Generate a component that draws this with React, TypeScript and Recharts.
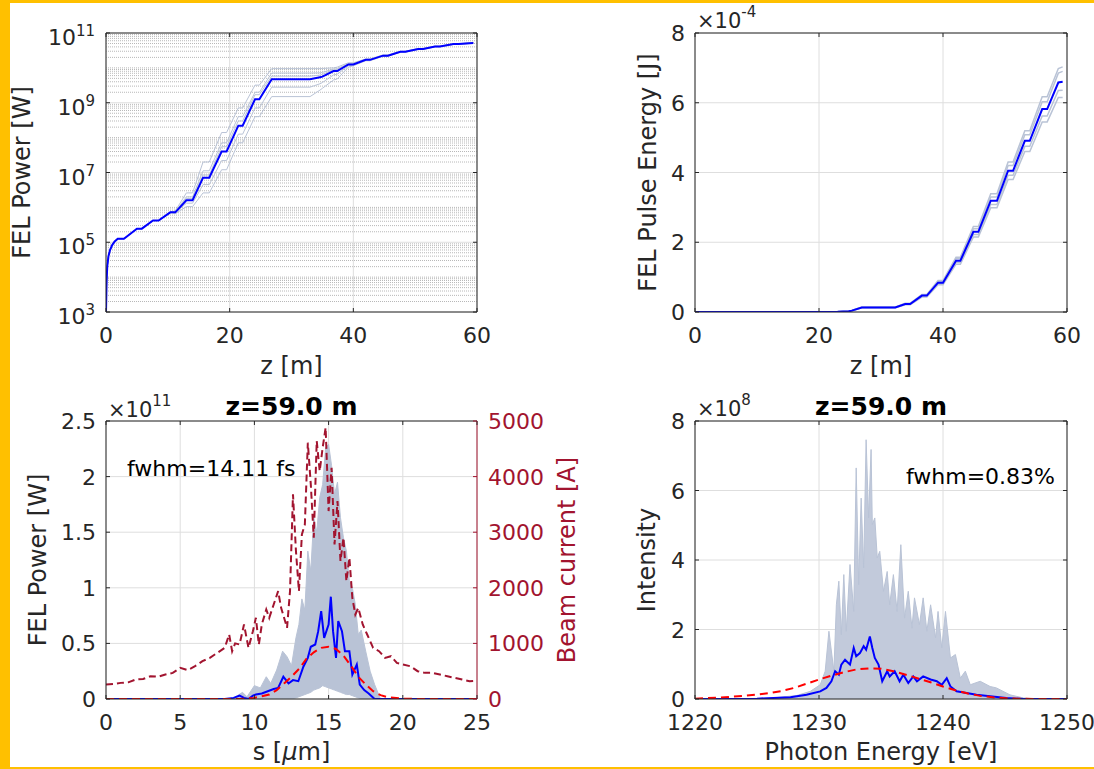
import { Area, CartesianGrid, ComposedChart, Line, ReferenceLine, XAxis, YAxis } from 'recharts'

const FONT = '"DejaVu Sans", sans-serif'
const INK = '#262626'
const GRID = '#dedede'
const MINOR = '#b8b8b8'
const SHOT = '#b9c3d6'
const BLUE = '#0000ff'
const FIT_RED = '#ff0000'
const CURRENT_RED = '#a2142f'
const TICK_LEN = 4

// ---- top left: FEL power vs z (log) ----
const zPower = [0, 0.1, 0.2, 0.4, 0.65, 1.0, 1.4, 1.9, 2.9, 5.0, 5.8, 7.6, 8.5, 10.4, 11.2, 13.0, 14.0, 15.7, 16.7, 18.7, 19.5, 21.4, 22.1, 24.1, 24.8, 26.8, 33.0, 34.6, 35.0, 36.8, 37.4, 39.2, 40.0, 42.0, 42.7, 44.8, 45.6, 47.6, 48.4, 50.5, 51.3, 53.2, 54.0, 56.2, 57.0, 59.4]
const powerMean = [1e3, 7.9e3, 2.0e4, 4.0e4, 6.0e4, 8.3e4, 1.05e5, 1.26e5, 1.26e5, 2.45e5, 2.45e5, 4.2e5, 4.2e5, 7.2e5, 7.2e5, 1.6e6, 1.6e6, 7.1e6, 7.1e6, 4.0e7, 4.0e7, 2.2e8, 2.2e8, 1.26e9, 1.26e9, 4.7e9, 4.7e9, 5.4e9, 5.6e9, 8.1e9, 8.1e9, 1.26e10, 1.26e10, 1.7e10, 1.7e10, 2.24e10, 2.24e10, 2.9e10, 2.9e10, 3.5e10, 3.5e10, 4.1e10, 4.1e10, 4.8e10, 4.8e10, 5.2e10]
const powerShot1 = [1e3, 7.9e3, 2.0e4, 4.0e4, 6.0e4, 8.3e4, 1.05e5, 1.26e5, 1.26e5, 2.45e5, 2.45e5, 4.2e5, 4.2e5, 7.4e5, 7.9e5, 2.6e6, 2.6e6, 2.0e7, 2.0e7, 1.4e8, 1.4e8, 7.1e8, 7.1e8, 3.2e9, 3.2e9, 9.5e9, 9.5e9, 9.5e9, 9.6e9, 1.0e10, 1.05e10, 1.4e10, 1.4e10, 1.8e10, 1.8e10, 2.35e10, 2.35e10, 3.0e10, 3.0e10, 3.6e10, 3.6e10, 4.2e10, 4.2e10, 4.9e10, 4.9e10, 5.4e10]
const powerShot2 = [1e3, 7.9e3, 2.0e4, 4.0e4, 6.0e4, 8.3e4, 1.05e5, 1.26e5, 1.26e5, 2.45e5, 2.45e5, 4.2e5, 4.2e5, 7.3e5, 7.5e5, 2.0e6, 2.0e6, 1.12e7, 1.12e7, 7.1e7, 7.1e7, 4.0e8, 4.0e8, 2.0e9, 2.0e9, 7.1e9, 7.1e9, 7.2e9, 7.4e9, 9.3e9, 9.4e9, 1.32e10, 1.32e10, 1.75e10, 1.75e10, 2.3e10, 2.3e10, 2.95e10, 2.95e10, 3.55e10, 3.55e10, 4.15e10, 4.15e10, 4.85e10, 4.85e10, 5.3e10]
const powerShot3 = [1e3, 7.9e3, 2.0e4, 4.0e4, 6.0e4, 8.3e4, 1.05e5, 1.26e5, 1.26e5, 2.45e5, 2.45e5, 4.2e5, 4.2e5, 7.1e5, 6.9e5, 1.32e6, 1.32e6, 4.5e6, 4.5e6, 2.2e7, 2.2e7, 1.26e8, 1.26e8, 7.1e8, 7.1e8, 2.8e9, 2.8e9, 3.5e9, 3.8e9, 6.3e9, 6.6e9, 1.15e10, 1.2e10, 1.65e10, 1.65e10, 2.2e10, 2.2e10, 2.85e10, 2.85e10, 3.45e10, 3.45e10, 4.05e10, 4.05e10, 4.75e10, 4.75e10, 5.15e10]
const powerShot4 = [1e3, 7.9e3, 2.0e4, 4.0e4, 6.0e4, 8.3e4, 1.05e5, 1.26e5, 1.26e5, 2.45e5, 2.45e5, 4.2e5, 4.2e5, 7.0e5, 6.6e5, 1.05e6, 1.05e6, 2.6e6, 2.6e6, 1.2e7, 1.2e7, 7.1e7, 7.1e7, 4.0e8, 4.0e8, 1.5e9, 1.5e9, 2.3e9, 2.6e9, 4.5e9, 4.8e9, 1.05e10, 1.15e10, 1.6e10, 1.6e10, 2.15e10, 2.15e10, 2.8e10, 2.8e10, 3.4e10, 3.4e10, 4.0e10, 4.0e10, 4.7e10, 4.7e10, 5.1e10]
const powerShot5 = [1e3, 7.9e3, 2.0e4, 4.0e4, 6.0e4, 8.3e4, 1.05e5, 1.26e5, 1.26e5, 2.45e5, 2.45e5, 4.2e5, 4.2e5, 7.2e5, 7.3e5, 1.8e6, 1.8e6, 8.5e6, 8.5e6, 5.5e7, 5.5e7, 3.0e8, 3.0e8, 1.7e9, 1.7e9, 5.8e9, 5.8e9, 6.2e9, 6.5e9, 8.8e9, 9.0e9, 1.3e10, 1.3e10, 1.72e10, 1.72e10, 2.27e10, 2.27e10, 2.92e10, 2.92e10, 3.52e10, 3.52e10, 4.12e10, 4.12e10, 4.82e10, 4.82e10, 5.25e10]
const powerTicks = [1e3, 1e5, 1e7, 1e9, 1e11]

// ---- top right: pulse energy vs z, in units of 1e-4 J ----
const zEnergy = [0, 20, 23, 24.8, 25.3, 26.9, 32.3, 33.9, 34.7, 36.6, 37.4, 39.2, 40.0, 42.1, 42.8, 44.9, 45.7, 47.7, 48.7, 50.5, 51.3, 53.2, 54.0, 56.0, 56.8, 58.6, 59.3]
const energyMean = [0, 0, 0.005, 0.02, 0.04, 0.13, 0.13, 0.23, 0.23, 0.47, 0.47, 0.84, 0.84, 1.47, 1.47, 2.3, 2.3, 3.19, 3.19, 4.05, 4.05, 4.91, 4.91, 5.82, 5.82, 6.58, 6.6]
const energyShot1 = [0, 0, 0.005, 0.02, 0.045, 0.14, 0.14, 0.25, 0.25, 0.5, 0.5, 0.9, 0.9, 1.57, 1.57, 2.45, 2.45, 3.39, 3.39, 4.3, 4.3, 5.2, 5.2, 6.17, 6.17, 6.98, 7.03]
const energyShot2 = [0, 0, 0.005, 0.02, 0.042, 0.135, 0.135, 0.24, 0.24, 0.49, 0.49, 0.87, 0.87, 1.53, 1.53, 2.39, 2.39, 3.3, 3.3, 4.2, 4.2, 5.08, 5.08, 6.03, 6.03, 6.85, 6.9]
const energyShot3 = [0, 0, 0.005, 0.02, 0.038, 0.125, 0.125, 0.22, 0.22, 0.45, 0.45, 0.81, 0.81, 1.42, 1.42, 2.22, 2.22, 3.08, 3.08, 3.92, 3.92, 4.75, 4.75, 5.62, 5.62, 6.35, 6.36]
const energyShot4 = [0, 0, 0.005, 0.02, 0.035, 0.12, 0.12, 0.21, 0.21, 0.43, 0.43, 0.78, 0.78, 1.37, 1.37, 2.15, 2.15, 2.99, 2.99, 3.8, 3.8, 4.6, 4.6, 5.45, 5.45, 6.15, 6.15]

// ---- bottom left: power profile (1e11 W) and beam current (A) at z=59 m ----
const sCurrent = [0, 0.5, 1.0, 1.5, 2.0, 2.5, 3.0, 3.5, 4.0, 4.5, 5.0, 5.5, 6.0, 6.5, 7.0, 7.5, 8.0, 8.3, 8.5, 8.7, 9.0, 9.3, 9.6, 9.9, 10.1, 10.3, 10.5, 10.8, 11.0, 11.3, 11.6, 11.8, 12.0, 12.2, 12.4, 12.6, 12.8, 13.0, 13.2, 13.4, 13.6, 13.8, 14.0, 14.2, 14.4, 14.6, 14.8, 15.0, 15.2, 15.4, 15.6, 15.8, 16.0, 16.2, 16.4, 16.6, 16.8, 17.0, 17.3, 17.6, 18.0, 18.4, 18.8, 19.2, 19.6, 20.0, 20.5, 21.0, 21.5, 22.0, 22.5, 23.0, 23.5, 24.0, 24.5, 25.0]
const beamCurrent = [260, 270, 290, 300, 350, 360, 410, 400, 440, 470, 560, 520, 590, 680, 740, 830, 920, 1160, 860, 1000, 980, 1340, 920, 1220, 1460, 980, 1340, 1610, 1460, 1700, 1940, 1640, 1460, 1280, 1940, 3680, 2660, 1940, 2960, 3140, 4610, 3860, 2900, 4640, 4100, 4520, 4880, 3380, 4160, 2780, 3560, 2480, 2900, 2120, 2540, 1820, 1520, 1640, 1340, 1160, 920, 860, 740, 770, 650, 620, 590, 500, 470, 470, 440, 410, 380, 350, 320, 330]
const sPower = [0, 8.0, 8.6, 9.0, 9.3, 9.6, 9.9, 10.1, 10.5, 10.9, 11.3, 11.6, 11.95, 12.3, 12.6, 12.96, 13.3, 13.6, 13.8, 14.1, 14.3, 14.5, 14.7, 15.0, 15.15, 15.3, 15.5, 15.65, 15.9, 16.1, 16.4, 16.6, 16.9, 17.1, 17.4, 17.7, 18.1, 25]
const powerSlice = [0, 0, 0.01, 0.03, 0.01, 0, 0.03, 0.04, 0.05, 0.07, 0.09, 0.1, 0.2, 0.14, 0.17, 0.16, 0.29, 0.37, 0.47, 0.49, 0.61, 0.79, 0.55, 0.67, 0.92, 0.61, 0.37, 0.7, 0.61, 0.43, 0.43, 0.22, 0.31, 0.13, 0.08, 0.05, 0, 0]
const sBand = [8.5, 9.2, 9.5, 10.0, 10.4, 10.8, 11.1, 11.5, 11.9, 12.2, 12.5, 12.8, 13.0, 13.2, 13.4, 13.6, 13.8, 14.0, 14.2, 14.4, 14.6, 14.8, 15.0, 15.2, 15.4, 15.6, 15.8, 16.0, 16.2, 16.4, 16.6, 16.8, 17.0, 17.2, 17.5, 17.8, 18.1, 18.5]
const bandHigh = [0, 0.06, 0.02, 0.12, 0.1, 0.2, 0.14, 0.26, 0.43, 0.38, 0.3, 0.55, 0.67, 0.9, 0.8, 1.33, 1.15, 1.63, 1.5, 1.81, 1.93, 2.26, 2.29, 2.1, 1.84, 1.95, 1.63, 1.45, 1.33, 1.06, 1.0, 0.85, 0.58, 0.62, 0.43, 0.25, 0.13, 0]
const bandLow = [0, 0, 0, 0, 0, 0, 0, 0, 0, 0, 0, 0.01, 0.02, 0.03, 0.04, 0.05, 0.06, 0.08, 0.09, 0.1, 0.12, 0.11, 0.1, 0.09, 0.08, 0.07, 0.06, 0.05, 0.04, 0.04, 0.03, 0.02, 0.01, 0, 0, 0, 0, 0]
const sFit = [0, 9, 10, 11, 11.5, 12, 12.5, 13, 13.5, 14, 14.5, 15, 15.5, 16, 16.5, 17, 17.5, 18, 18.5, 19, 20, 21, 25]
const powerFit = [0, 0, 0.01, 0.04, 0.08, 0.14, 0.2, 0.27, 0.36, 0.42, 0.46, 0.47, 0.45, 0.39, 0.3, 0.2, 0.13, 0.07, 0.035, 0.015, 0.003, 0, 0]

// ---- bottom right: spectrum (1e8) at z=59 m ----
const eSpec = [1220, 1225.0, 1227.7, 1229.0, 1230.1, 1230.6, 1231.0, 1231.3, 1231.6, 1231.8, 1232.1, 1232.5, 1232.8, 1233.0, 1233.3, 1233.6, 1233.8, 1234.1, 1234.3, 1234.5, 1234.8, 1235.1, 1235.5, 1235.7, 1236.1, 1236.5, 1236.8, 1237.2, 1237.6, 1237.9, 1238.4, 1239.0, 1239.5, 1239.9, 1240.3, 1240.6, 1241.1, 1241.9, 1242.7, 1243.8, 1245.1, 1246.5, 1250]
const specMean = [0, 0.01, 0.05, 0.12, 0.22, 0.32, 0.51, 0.8, 0.7, 0.99, 1.13, 0.99, 1.47, 1.23, 1.32, 1.52, 1.42, 1.8, 1.47, 1.18, 0.99, 0.51, 0.8, 0.65, 0.8, 0.51, 0.7, 0.46, 0.65, 0.51, 0.65, 0.56, 0.51, 0.41, 0.6, 0.36, 0.22, 0.17, 0.12, 0.08, 0.03, 0, 0]
const eFit = [1220, 1222, 1224, 1225, 1226, 1227, 1228, 1229, 1230, 1231, 1232, 1233, 1234, 1235, 1236, 1237, 1238, 1239, 1240, 1241, 1242, 1243, 1244, 1245, 1246, 1248, 1250]
const specFit = [0.01, 0.04, 0.09, 0.13, 0.17, 0.23, 0.32, 0.44, 0.56, 0.67, 0.77, 0.85, 0.88, 0.87, 0.8, 0.7, 0.59, 0.48, 0.36, 0.25, 0.16, 0.09, 0.05, 0.025, 0.01, 0, 0]
const eShots = [1220, 1226, 1228.2, 1229.3, 1230.1, 1230.5, 1230.8, 1231.2, 1231.4, 1231.6, 1231.8, 1232.0, 1232.2, 1232.5, 1232.8, 1233.0, 1233.2, 1233.4, 1233.6, 1233.8, 1234.0, 1234.2, 1234.3, 1234.5, 1234.7, 1234.9, 1235.2, 1235.5, 1235.7, 1236.0, 1236.3, 1236.6, 1236.9, 1237.2, 1237.5, 1237.7, 1238.1, 1238.4, 1238.7, 1239.0, 1239.4, 1239.6, 1239.9, 1240.2, 1240.6, 1241.0, 1241.4, 1241.8, 1242.2, 1243.0, 1243.8, 1244.3, 1245.4, 1246.5, 1247.6, 1250]
const specShotsMax = [0, 0.02, 0.1, 0.22, 0.41, 0.8, 1.95, 0.8, 2.71, 3.39, 1.85, 3.58, 1.95, 3.87, 2.52, 6.65, 3.29, 5.78, 3.77, 7.46, 5.21, 7.18, 5.02, 5.21, 4.06, 4.25, 3.1, 3.67, 2.71, 3.58, 2.52, 4.44, 2.33, 3.1, 2.04, 2.91, 2.14, 2.91, 1.95, 2.71, 1.76, 2.52, 1.47, 2.52, 1.18, 1.28, 0.6, 0.8, 0.41, 0.51, 0.36, 0.32, 0.12, 0.03, 0, 0]

type Pt = { x: number; y: number }
const zip = (xs: number[], ys: number[]): Pt[] => xs.map((x, i) => ({ x, y: ys[i] }))

// minor grid values for the log axis (2..9 x 10^k, plus unlabeled decades)
const minorPowerGrid: number[] = []
for (let d = 3; d < 11; d++) {
  for (let k = 1; k < 10; k++) {
    if (k === 1 && d % 2 === 1) continue
    minorPowerGrid.push(k * 10 ** d)
  }
}

const text = { fontFamily: FONT, fill: INK }

function bottomTick(plotTop: number) {
  return (p: any) => (
    <g>
      <line x1={p.x} y1={p.y} x2={p.x} y2={p.y - TICK_LEN} stroke={INK} />
      <line x1={p.x} y1={plotTop} x2={p.x} y2={plotTop + TICK_LEN} stroke={INK} />
      <text x={p.x} y={p.y + 31} textAnchor="middle" fontSize={22} {...text}>
        {p.payload.value}
      </text>
    </g>
  )
}

function leftTick(plotRight: number | null) {
  return (p: any) => (
    <g>
      <line x1={p.x} y1={p.y} x2={p.x + TICK_LEN} y2={p.y} stroke={INK} />
      {plotRight !== null && (
        <line x1={plotRight - TICK_LEN} y1={p.y} x2={plotRight} y2={p.y} stroke={INK} />
      )}
      <text x={p.x - 10} y={p.y + 8} textAnchor="end" fontSize={22} {...text}>
        {p.payload.value}
      </text>
    </g>
  )
}

function rightTick(color: string) {
  return (p: any) => (
    <g>
      <line x1={p.x} y1={p.y} x2={p.x - TICK_LEN} y2={p.y} stroke={color} />
      <text x={p.x + 11} y={p.y + 8} textAnchor="start" fontSize={22} fontFamily={FONT} fill={color}>
        {p.payload.value}
      </text>
    </g>
  )
}

function logTick(plotRight: number) {
  return (p: any) => (
    <g>
      <line x1={p.x} y1={p.y} x2={p.x + TICK_LEN} y2={p.y} stroke={INK} />
      <line x1={plotRight - TICK_LEN} y1={p.y} x2={plotRight} y2={p.y} stroke={INK} />
      <text x={p.x - 11} y={p.y + 12} textAnchor="end" fontSize={22} {...text}>
        10<tspan dy={-9} fontSize={15}>{Math.round(Math.log10(p.payload.value))}</tspan>
      </text>
    </g>
  )
}

function Exponent({ x, y, exp }: { x: number; y: number; exp: string }) {
  return (
    <text x={x} y={y} fontSize={21} {...text}>
      ×10<tspan dy={-11} fontSize={15}>{exp}</tspan>
    </text>
  )
}

function XLabel({ x, y, children }: { x: number; y: number; children: React.ReactNode }) {
  return (
    <text x={x} y={y} textAnchor="middle" fontSize={24} {...text}>
      {children}
    </text>
  )
}

function YLabel({ x, y, color = INK, children }: { x: number; y: number; color?: string; children: React.ReactNode }) {
  return (
    <text transform={`translate(${x},${y}) rotate(-90)`} textAnchor="middle" fontSize={24} fontFamily={FONT} fill={color}>
      {children}
    </text>
  )
}

function Title({ x, y }: { x: number; y: number }) {
  return (
    <text x={x} y={y} textAnchor="middle" fontSize={25} fontWeight="bold" fontFamily={FONT} fill="#000">
      z=59.0 m
    </text>
  )
}

const overlay = (w: number, h: number): React.CSSProperties => ({
  position: 'absolute', left: 0, top: 0, width: w, height: h, pointerEvents: 'none',
})

const noDots = { dot: false, activeDot: false, isAnimationActive: false } as const

function PowerGainPanel() {
  const shots = [powerShot1, powerShot2, powerShot3, powerShot4, powerShot5]
  return (
    <div style={{ position: 'absolute', left: 0, top: 0, width: 600, height: 390 }}>
      <ComposedChart width={600} height={390} margin={{ top: 33, right: 123, bottom: 38, left: 46 }}>
        <CartesianGrid horizontalValues={minorPowerGrid} vertical={false} stroke={MINOR} strokeDasharray="1 1" />
        <CartesianGrid stroke={GRID} />
        <XAxis type="number" dataKey="x" domain={[0, 60]} ticks={[0, 20, 40, 60]} interval={0}
          allowDataOverflow height={40} tickSize={0} tickMargin={0} tickLine={false}
          axisLine={{ stroke: INK }} tick={bottomTick(33)} />
        <YAxis type="number" scale="log" domain={[1e3, 1e11]} ticks={powerTicks} interval={0}
          allowDataOverflow width={60} tickSize={0} tickMargin={0} tickLine={false}
          axisLine={{ stroke: INK }} tick={logTick(477)} />
        <ReferenceLine x={60} stroke={INK} />
        <ReferenceLine y={1e11} stroke={INK} />
        {shots.map((ys, i) => (
          <Line key={i} data={zip(zPower, ys)} dataKey="y" type="linear" stroke={SHOT} strokeWidth={1} {...noDots} />
        ))}
        <Line data={zip(zPower, powerMean)} dataKey="y" type="linear" stroke={BLUE} strokeWidth={2} {...noDots} />
      </ComposedChart>
      <svg style={overlay(600, 390)}>
        <XLabel x={291.5} y={374}>z [m]</XLabel>
        <YLabel x={30} y={172.5}>FEL Power [W]</YLabel>
      </svg>
    </div>
  )
}

function PulseEnergyPanel() {
  const shots = [energyShot1, energyShot2, energyShot3, energyShot4]
  return (
    <div style={{ position: 'absolute', left: 600, top: 0, width: 494, height: 390 }}>
      <ComposedChart width={494} height={390} margin={{ top: 33, right: 27, bottom: 38, left: 35 }}>
        <CartesianGrid stroke={GRID} />
        <XAxis type="number" dataKey="x" domain={[0, 60]} ticks={[0, 20, 40, 60]} interval={0}
          allowDataOverflow height={40} tickSize={0} tickMargin={0} tickLine={false}
          axisLine={{ stroke: INK }} tick={bottomTick(33)} />
        <YAxis type="number" domain={[0, 8]} ticks={[0, 2, 4, 6, 8]} interval={0}
          allowDataOverflow width={60} tickSize={0} tickMargin={0} tickLine={false}
          axisLine={{ stroke: INK }} tick={leftTick(467)} />
        <ReferenceLine x={60} stroke={INK} />
        <ReferenceLine y={8} stroke={INK} />
        {shots.map((ys, i) => (
          <Line key={i} data={zip(zEnergy, ys)} dataKey="y" type="linear" stroke={SHOT} strokeWidth={1.5} {...noDots} />
        ))}
        <Line data={zip(zEnergy, energyMean)} dataKey="y" type="linear" stroke={BLUE} strokeWidth={2} {...noDots} />
      </ComposedChart>
      <svg style={overlay(494, 390)}>
        <Exponent x={97} y={28} exp="-4" />
        <XLabel x={281} y={374}>z [m]</XLabel>
        <YLabel x={56} y={172.5}>FEL Pulse Energy [J]</YLabel>
      </svg>
    </div>
  )
}

function PowerProfilePanel() {
  const band = sBand.map((x, i) => ({ x, y: [bandLow[i], bandHigh[i]] }))
  return (
    <div style={{ position: 'absolute', left: 0, top: 390, width: 600, height: 379 }}>
      <ComposedChart width={600} height={379} margin={{ top: 31, right: 63, bottom: 30, left: 46 }}>
        <CartesianGrid yAxisId="pow" stroke={GRID} />
        <XAxis type="number" dataKey="x" domain={[0, 25]} ticks={[0, 5, 10, 15, 20, 25]} interval={0}
          allowDataOverflow height={40} tickSize={0} tickMargin={0} tickLine={false}
          axisLine={{ stroke: INK }} tick={bottomTick(31)} />
        <YAxis yAxisId="pow" type="number" domain={[0, 2.5]} ticks={[0, 0.5, 1, 1.5, 2, 2.5]} interval={0}
          allowDataOverflow width={60} tickSize={0} tickMargin={0} tickLine={false}
          axisLine={{ stroke: INK }} tick={leftTick(null)} />
        <YAxis yAxisId="cur" orientation="right" type="number" domain={[0, 5000]}
          ticks={[0, 1000, 2000, 3000, 4000, 5000]} interval={0} allowDataOverflow width={60}
          tickSize={0} tickMargin={0} tickLine={false} axisLine={{ stroke: CURRENT_RED }}
          tick={rightTick(CURRENT_RED)} />
        <ReferenceLine yAxisId="pow" y={2.5} stroke={INK} />
        <Area yAxisId="pow" data={band} dataKey="y" type="linear" stroke={SHOT} strokeWidth={1}
          fill={SHOT} fillOpacity={1} {...noDots} />
        <Line yAxisId="cur" data={zip(sCurrent, beamCurrent)} dataKey="y" type="linear"
          stroke={CURRENT_RED} strokeWidth={2} strokeDasharray="7 4" {...noDots} />
        <Line yAxisId="pow" data={zip(sPower, powerSlice)} dataKey="y" type="linear"
          stroke={BLUE} strokeWidth={2} {...noDots} />
        <Line yAxisId="pow" data={zip(sFit, powerFit)} dataKey="y" type="linear"
          stroke={FIT_RED} strokeWidth={2} strokeDasharray="8 5" {...noDots} />
      </ComposedChart>
      <svg style={overlay(600, 379)}>
        <Title x={291.5} y={25} />
        <Exponent x={108} y={27} exp="11" />
        <text x={127} y={86} fontSize={22} fontFamily={FONT} fill="#000">fwhm=14.11 fs</text>
        <XLabel x={291.5} y={370}>
          s [<tspan fontStyle="italic">μ</tspan>m]
        </XLabel>
        <YLabel x={46} y={170}>FEL Power [W]</YLabel>
        <YLabel x={575} y={170} color={CURRENT_RED}>Beam current [A]</YLabel>
      </svg>
    </div>
  )
}

function SpectrumPanel() {
  return (
    <div style={{ position: 'absolute', left: 600, top: 390, width: 494, height: 379 }}>
      <ComposedChart width={494} height={379} margin={{ top: 31, right: 27, bottom: 30, left: 35 }}>
        <CartesianGrid stroke={GRID} />
        <XAxis type="number" dataKey="x" domain={[1220, 1250]} ticks={[1220, 1230, 1240, 1250]} interval={0}
          allowDataOverflow height={40} tickSize={0} tickMargin={0} tickLine={false}
          axisLine={{ stroke: INK }} tick={bottomTick(31)} />
        <YAxis type="number" domain={[0, 8]} ticks={[0, 2, 4, 6, 8]} interval={0}
          allowDataOverflow width={60} tickSize={0} tickMargin={0} tickLine={false}
          axisLine={{ stroke: INK }} tick={leftTick(467)} />
        <ReferenceLine x={1250} stroke={INK} />
        <ReferenceLine y={8} stroke={INK} />
        <Area data={zip(eShots, specShotsMax)} dataKey="y" type="linear" stroke={SHOT} strokeWidth={1}
          fill="#c2cadb" fillOpacity={1} {...noDots} />
        <Line data={zip(eSpec, specMean)} dataKey="y" type="linear" stroke={BLUE} strokeWidth={2} {...noDots} />
        <Line data={zip(eFit, specFit)} dataKey="y" type="linear" stroke={FIT_RED} strokeWidth={2}
          strokeDasharray="8 5" {...noDots} />
      </ComposedChart>
      <svg style={overlay(494, 379)}>
        <Title x={281} y={25} />
        <Exponent x={97} y={26} exp="8" />
        <text x={455} y={94} textAnchor="end" fontSize={22} fontFamily={FONT} fill="#000">fwhm=0.83%</text>
        <XLabel x={281} y={370}>Photon Energy [eV]</XLabel>
        <YLabel x={55} y={170}>Intensity</YLabel>
      </svg>
    </div>
  )
}

export default function App() {
  return (
    <div style={{ position: 'relative', width: 1094, height: 769, background: '#ffc000', overflow: 'hidden' }}>
      <style>{'html, body { margin: 0; padding: 0; }'}</style>
      <div style={{ position: 'absolute', left: 10, top: 3, width: 1084, height: 764, background: '#fff' }} />
      <PowerGainPanel />
      <PulseEnergyPanel />
      <PowerProfilePanel />
      <SpectrumPanel />
    </div>
  )
}
